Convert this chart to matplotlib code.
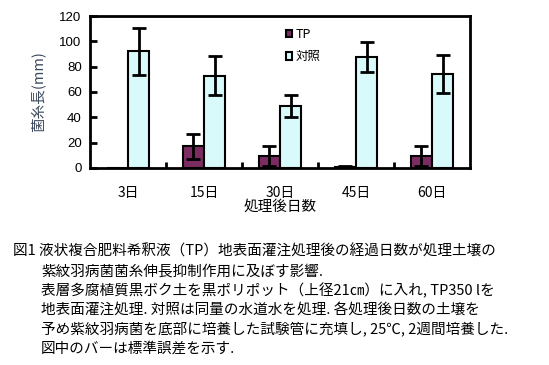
import numpy as np
import matplotlib
matplotlib.use('Agg')
import matplotlib.pyplot as plt

plt.rcParams['font.family'] = ['Noto Sans CJK JP', 'DejaVu Sans']

# Dati
giorni = ['3日', '15日', '30日', '45日', '60日']
tp = [0, 17, 9.5, 1, 9.5]
tp_err = [0, 10, 8, 0.6, 8]
taisho = [92, 73, 49, 87.5, 74.5]
taisho_err = [18.5, 15.5, 8.5, 12, 15]
legenda = ['TP', '対照']
didascalia = [
    '図1 液状複合肥料希釈液（TP）地表面灌注処理後の経過日数が処理土壌の',
    '紫紋羽病菌菌糸伸長抑制作用に及ぼす影響.',
    '表層多腐植質黒ボク土を黒ポリポット（上径21㎝）に入れ, TP350 lを',
    '地表面灌注処理. 対照は同量の水道水を処理. 各処理後日数の土壌を',
    '予め紫紋羽病菌を底部に培養した試験管に充填し, 25℃, 2週間培養した.',
    '図中のバーは標準誤差を示す.',
]

fig = plt.figure(figsize=(5.49, 3.65), dpi=100)
ax = fig.add_axes([0.164, 0.54, 0.692, 0.416])

x = np.arange(len(giorni))
w = 0.28
ax.bar(x - w / 2, tp, w, color='#7b2d62', edgecolor='black', linewidth=1.5, label=legenda[0])
ax.bar(x + w / 2, taisho, w, color='#d9fafa', edgecolor='black', linewidth=1.5, label=legenda[1])
ax.errorbar(x[1:] - w / 2, tp[1:], yerr=tp_err[1:], fmt='none', ecolor='black',
            elinewidth=2, capsize=5, capthick=2)
ax.errorbar(x + w / 2, taisho, yerr=taisho_err, fmt='none', ecolor='black',
            elinewidth=2, capsize=5, capthick=2)

ax.set_xlim(-0.5, 4.5)
ax.set_ylim(0, 120)
ax.set_yticks(np.arange(0, 121, 20))
ax.set_yticklabels([str(v) for v in range(0, 121, 20)], family='Liberation Sans', fontsize=9.5)
ax.set_xticks(x)
ax.set_xticklabels(giorni, fontsize=10)
ax.set_xticks(np.arange(0.5, 4, 1), minor=True)
ax.tick_params(axis='x', which='major', length=0, pad=13)
ax.tick_params(axis='x', which='minor', direction='in', length=4, width=2)
ax.tick_params(axis='y', direction='in', length=5, width=2, pad=6)
for s in ax.spines.values():
    s.set_linewidth(2)

ax.set_xlabel('処理後日数', fontsize=10.5, labelpad=0)
ax.set_ylabel('菌糸長(mm)', fontsize=10.5, color='#3c4a5e', labelpad=10)

ax.legend(loc='upper left', bbox_to_anchor=(0.485, 0.995), frameon=False, fontsize=9,
          handlelength=0.5, handleheight=0.5, handletextpad=0.3, labelspacing=0.75)

y0 = 0.31
for i, riga in enumerate(didascalia):
    xx = 0.024 if i == 0 else 0.075
    fig.text(xx, y0 - i * 0.0528, riga, fontsize=10.5, va='center')

fig.savefig('out.png', dpi=100)
